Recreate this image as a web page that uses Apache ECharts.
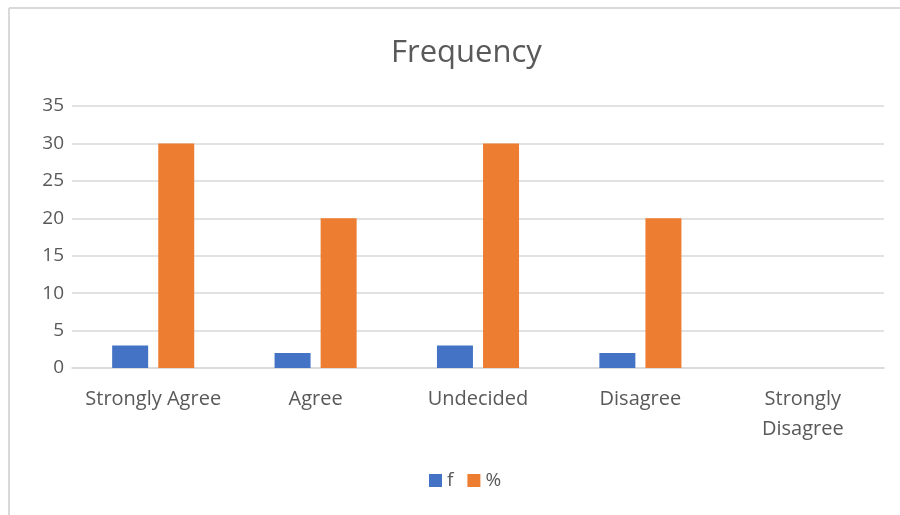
<!DOCTYPE html>
<html>
<head>
<meta charset="utf-8">
<script src="https://cdn.jsdelivr.net/npm/echarts@6/dist/echarts.min.js"></script>
<style>
  html, body { margin: 0; padding: 0; background: #fff; }
  #chart { width: 900px; height: 515px; }
</style>
</head>
<body>
<div id="chart"></div>
<script>
// Survey responses per answer option
const categories = ['Strongly Agree', 'Agree', 'Undecided', 'Disagree', 'Strongly Disagree'];
const freqValues = [3, 2, 3, 2, 0];
const pctValues = [30, 20, 30, 20, 0];
const yTicks = { min: 0, max: 35, interval: 5 };

const FONT = '"Open Sans", "Noto Sans", sans-serif';
const TEXT = '#595959';

const chart = echarts.init(document.getElementById('chart'));
chart.setOption({
  animation: false,
  backgroundColor: '#ffffff',
  title: {
    text: 'Frequency',
    left: 386,
    top: 33,
    textStyle: { fontFamily: FONT, fontSize: 31, fontWeight: 'normal', color: TEXT }
  },
  legend: {
    data: ['f', '%'],
    bottom: 20,
    left: 424,
    itemWidth: 13,
    itemHeight: 13,
    itemGap: 14,
    icon: 'rect',
    textStyle: { fontFamily: FONT, fontSize: 19, color: TEXT }
  },
  grid: { left: 72, right: 16, top: 106, bottom: 147, containLabel: false },
  xAxis: {
    type: 'category',
    data: categories,
    axisLine: { lineStyle: { color: '#d9d9d9', width: 1.5 } },
    axisTick: { show: false },
    axisLabel: {
      interval: 0,
      hideOverlap: false,
      fontFamily: FONT, fontSize: 20, color: TEXT, margin: 16, lineHeight: 30,
      formatter: function (v) { return v === 'Strongly Disagree' ? 'Strongly\nDisagree' : v; }
    }
  },
  yAxis: {
    type: 'value',
    min: yTicks.min,
    max: yTicks.max,
    interval: yTicks.interval,
    axisLine: { show: false },
    axisTick: { show: false },
    axisLabel: { fontFamily: FONT, fontSize: 19, color: TEXT, margin: 8 },
    splitLine: { lineStyle: { color: '#d9d9d9', width: 1.5 } }
  },
  graphic: [
    { type: 'line', shape: { x1: 9, y1: 8, x2: 900, y2: 8 }, style: { stroke: '#d9d9d9', lineWidth: 2 } },
    { type: 'line', shape: { x1: 9, y1: 8, x2: 9, y2: 515 }, style: { stroke: '#d9d9d9', lineWidth: 2 } }
  ],
  series: [
    { name: 'f', type: 'bar', data: freqValues, itemStyle: { color: '#4472c4' },
      barWidth: 36, barGap: '28%' },
    { name: '%', type: 'bar', data: pctValues, itemStyle: { color: '#ed7d31' },
      barWidth: 36, barGap: '28%' }
  ]
});
</script>
</body>
</html>
